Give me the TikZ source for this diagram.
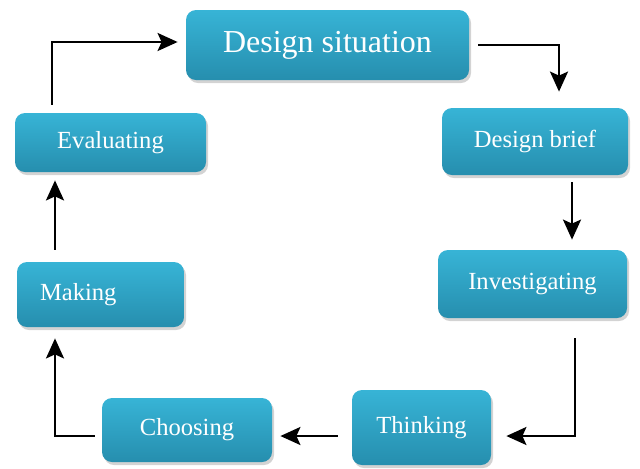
\documentclass[tikz,border=0pt]{standalone}
\usepackage{fontspec}
\setmainfont{Liberation Serif}
\usetikzlibrary{arrows.meta,shadows}
\definecolor{boxtop}{RGB}{55,180,214}
\definecolor{boxbot}{RGB}{38,142,174}

\begin{document}
\begin{tikzpicture}[x=0.5pt, y=-0.5pt, >=Stealth]
  % Styles
  \tikzset{
    stage/.style={rectangle, rounded corners=5pt, top color=boxtop, bottom color=boxbot,
      text=white, font=\fontsize{12.3}{14}\selectfont, inner sep=0pt,
      drop shadow={shadow xshift=1pt, shadow yshift=-1.5pt, opacity=0.35}},
    arr/.style={line width=1.2pt, arrows={-Stealth[length=10pt,width=9pt,inset=2pt]}}
  }
  \useasboundingbox (0,0) rectangle (640,468);

  %================= BOXES =================
  \node[stage, minimum width=141.5pt, minimum height=35pt,
        font=\fontsize{16}{19}\selectfont] (situation) at (327.5,45) {Design situation};
  \node[stage, minimum width=93pt, minimum height=33.5pt] (brief) at (535,141.5) {Design brief};
  \node[stage, minimum width=94.5pt, minimum height=34pt] (invest) at (532.5,284) {Investigating};
  \node[stage, minimum width=69.5pt, minimum height=37.5pt] (think) at (421.5,427.5) {Thinking};
  \node[stage, minimum width=85pt, minimum height=32pt] (choose) at (187,430) {Choosing};
  \node[stage, minimum width=83.5pt, minimum height=32.5pt,
        text width=60.5pt, align=left, inner xsep=11.5pt] (make) at (100.5,294.5) {Making};
  \node[stage, minimum width=95.5pt, minimum height=29.5pt] (eval) at (110.5,142.5) {Evaluating};

  %================= ARROWS =================
  \draw[arr, shorten <=4pt, shorten >=4pt] ([xshift=-29.25pt]eval.north) |- ([yshift=1.5pt]situation.west);
  \draw[arr, shorten <=4.5pt, shorten >=8pt] (situation.east) -| ([xshift=12pt]brief.north);
  \draw[arr, shorten <=3.5pt, shorten >=5pt] ([xshift=18.5pt]brief.south) -- ([xshift=18.5pt]brief.south |- invest.north);
  \draw[arr, shorten <=10pt, shorten >=7.5pt] ([xshift=21.25pt]invest.south) |- ([yshift=-4.25pt]think.east);
  \draw[arr, shorten <=7pt, shorten >=4pt] ([yshift=-4.25pt]think.west) -- ([yshift=-4.25pt]think.west -| choose.east);
  \draw[arr, shorten <=3.5pt, shorten >=5.5pt] ([yshift=-3pt]choose.west) -| ([xshift=-22.75pt]make.south);
  \draw[arr, shorten <=6pt, shorten >=4pt] ([xshift=-22.75pt]make.north) -- ([xshift=-22.75pt]make.north |- eval.south);

\end{tikzpicture}
\end{document}
